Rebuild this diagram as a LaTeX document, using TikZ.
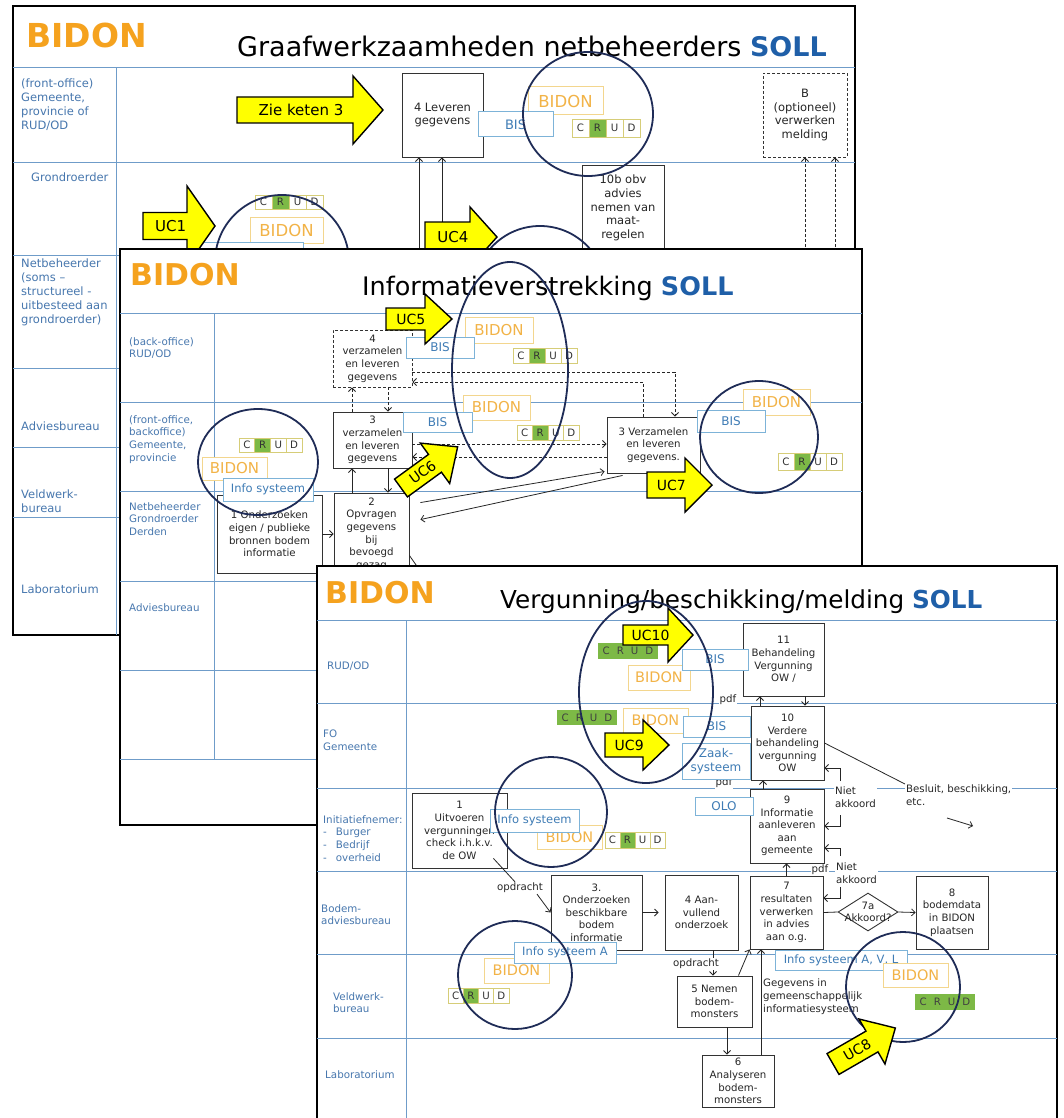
\documentclass[tikz,border=0pt]{standalone}
\usepackage{tikz,ifthen}
\usepackage{xcolor}
\usepackage{fontspec}
\setmainfont{DejaVu Sans}
\usetikzlibrary{arrows.meta,shapes.geometric}

\definecolor{bidonoranje}{HTML}{F5A21E}
\definecolor{bidonlicht}{HTML}{F2B347}
\definecolor{bidonrand}{HTML}{F3D68E}
\definecolor{sollblauw}{HTML}{1F5FA8}
\definecolor{baanblauw}{HTML}{6F9CC9}
\definecolor{baanlabel}{HTML}{4777AE}
\definecolor{bisrand}{HTML}{7DB3D8}
\definecolor{bistekst}{HTML}{3F7CB5}
\definecolor{crudrand}{HTML}{D6CD78}
\definecolor{crudgroen}{HTML}{7DB946}
\definecolor{omrand}{HTML}{1F2C57}
\definecolor{ucgeel}{HTML}{FFFF00}

\newcommand{\fa}{\fontsize{11.5}{13.8}\selectfont}
\newcommand{\fb}{\fontsize{10.2}{12.6}\selectfont}
\newcommand{\fl}{\fontsize{10.3}{12.7}\selectfont}

% gele blokpijl: naam, x, y, hoek, romp, kop, halve romp, halve kop, tekst
\newcommand{\ucpijl}[9]{%
  \begin{scope}[shift={(#2,#3)}, rotate=#4]
    \draw[ucvorm] (0,-#7) -- (#5,-#7) -- (#5,-#8) -- ({#5+#6},0) -- (#5,#8) -- (#5,#7) -- (0,#7) -- cycle;
    \node[uctekst, rotate=#4] (#1) at ({(#5+0.4*#6)/2},0) {#9};
  \end{scope}}

% C R U D vakjes: naam, x links, y midden, breedte vakje, hoogte
\newcommand{\crud}[5]{%
  \foreach \l [count=\i] in {C,R,U,D}{
    \ifthenelse{\i = 2}{\def\kl{crudgroen}}{\def\kl{white}}
    \node[crudcel, fill=\kl, minimum width=#4, minimum height=#5] (#1\i) at ({#2+(\i-0.5)*#4},#3) {\l};
  }}

\begin{document}
\begin{tikzpicture}[x=1pt, y=-1pt, >={Straight Barb[length=3.5pt,width=7pt]},
  dia/.style={draw=black, line width=1.6pt, fill=white},
  baan/.style={draw=baanblauw, line width=1pt},
  baantekst/.style={text=baanlabel, align=left, anchor=north west, inner sep=0pt},
  proc/.style={draw=black!80, line width=0.9pt, fill=white, align=center, inner sep=0pt, text=black!85},
  stippel/.style={dash pattern=on 3pt off 2pt},
  bis/.style={draw=bisrand, line width=1pt, fill=white, inner sep=0pt, text=bistekst, align=center, font=\fontsize{12}{13.5}\selectfont},
  bidonvak/.style={draw=bidonrand, line width=1pt, fill=white, inner sep=0pt, text=bidonlicht},
  crudcel/.style={draw=crudrand, line width=0.9pt, inner sep=0pt, font=\fb, text=black!80},
  crudvol/.style={fill=crudgroen, inner sep=0pt, font=\fb, text=black!75},
  omcirkel/.style={draw=omrand, line width=1.8pt},
  ucvorm/.style={fill=ucgeel, draw=black, line width=1.4pt},
  uctekst/.style={font=\fontsize{14}{16}\selectfont, inner sep=0pt},
  verbinding/.style={draw=black!85, line width=0.8pt},
  losse/.style={inner sep=1pt, fill=white, align=left, font=\fb, text=black!85}]

  \useasboundingbox (0,0) rectangle (1063,1118);
  \clip (0,0) rectangle (1063,1118);

  % ===== dia 1: graafwerkzaamheden
  \draw[dia] (13,6) rectangle (855,635);
  \foreach \y in {68,163,255,368,447,517} \draw[baan] (13,\y) -- (855,\y);
  \draw[baan] (116,68) -- (116,635);
  \node[anchor=base west, inner sep=0pt, text=bidonoranje, font=\fontsize{33}{38}\selectfont\bfseries] (bidon1) at (26,48) {BIDON};
  \node[anchor=base west, inner sep=0pt, font=\fontsize{27}{32}\selectfont] (titel1) at (237,57) {Graafwerkzaamheden netbeheerders \textcolor{sollblauw}{\bfseries SOLL}};
  \node[baantekst, font=\fa] (rol1a) at (21,79) {(front-office)\\Gemeente,\\provincie of\\RUD/OD};
  \node[baantekst, font=\fa] (rol1b) at (31,173) {Grondroerder};
  \node[baantekst, font=\fa] (rol1c) at (21,259) {Netbeheerder\\(soms --\\structureel -\\uitbesteed aan\\grondroerder)};
  \node[baantekst, font=\fa] (rol1d) at (21,422) {Adviesbureau};
  \node[baantekst, font=\fa] (rol1e) at (21,490) {Veldwerk-\\bureau};
  \node[baantekst, font=\fa] (rol1f) at (21,585) {Laboratorium};

  \node[proc, font=\fa, minimum width=81, minimum height=84] (lev4) at (442.5,115) {4 Leveren\\gegevens};
  \node[proc, stippel, font=\fa, minimum width=84, minimum height=84] (optB) at (805,115) {B\\(optioneel)\\verwerken\\melding};
  \node[proc, font=\fa, minimum width=82, minimum height=86] (maat10b) at (623,208) {10b obv\\advies\\nemen van\\maat-\\regelen};
  \coordinate (van4a) at (419,262);
  \coordinate (van4b) at (442,262);
  \coordinate (vanBa) at (805,262);
  \coordinate (vanBb) at (835,262);
  \draw[verbinding,->] (van4a) -- (van4a |- lev4.south);
  \draw[verbinding,->] (van4b) -- (van4b |- lev4.south);
  \draw[verbinding,stippel,->] (vanBa) -- (vanBa |- optB.south);
  \draw[verbinding,stippel,->] (vanBb) -- (vanBb |- optB.south);

  \node[bidonvak, font=\fontsize{16.5}{18}\selectfont, minimum width=75, minimum height=28] (bidon1a) at (565.5,101) {BIDON};
  \node[bis, font=\fontsize{13}{15}\selectfont, minimum width=75, minimum height=25] (bis1a) at (515.5,124.5) {BIS};
  \crud{crud1a}{572}{128}{17}{18}
  \node[bidonvak, font=\fontsize{16.5}{18}\selectfont, minimum width=73, minimum height=26] (bidon1b) at (286.5,230) {BIDON};
  \crud{crud1b}{255}{202}{17}{14}
  \node[bis, minimum width=116, minimum height=23] (info1) at (245,253.5) {};

  \draw[omcirkel] (588,114) ellipse [x radius=65, y radius=62];
  \draw[omcirkel] (282,262) circle [radius=67];
  \draw[omcirkel] (540,292) circle [radius=66];
  \ucpijl{keten3}{237}{110}{0}{116}{30}{13}{34}{\fontsize{15}{17}\selectfont Zie keten 3}
  \ucpijl{uc1}{143}{226}{0}{44}{28}{13.5}{40}{\fontsize{15}{17}\selectfont UC1}
  \ucpijl{uc4}{425}{237}{0}{45}{27}{15}{30}{\fontsize{15}{17}\selectfont UC4}

  % ===== dia 2: informatieverstrekking
  \draw[dia] (120,249) rectangle (862,825);
  \foreach \y in {313,402,491,581,670,759} \draw[baan] (120,\y) -- (862,\y);
  \draw[baan] (214,313) -- (214,759);
  \node[anchor=base west, inner sep=0pt, text=bidonoranje, font=\fontsize{30}{35}\selectfont\bfseries] (bidon2) at (130,285) {BIDON};
  \node[anchor=base west, inner sep=0pt, font=\fontsize{25.5}{30}\selectfont] (titel2) at (362,295) {Informatieverstrekking \textcolor{sollblauw}{\bfseries SOLL}};
  \node[baantekst, font=\fl] (rol2a) at (129,337) {(back-office)\\RUD/OD};
  \node[baantekst, font=\fl] (rol2b) at (129,415) {(front-office,\\backoffice)\\Gemeente,\\provincie};
  \node[baantekst, font=\fl] (rol2c) at (129,502) {Netbeheerder\\Grondroerder\\Derden};
  \node[baantekst, font=\fl] (rol2d) at (129,603) {Adviesbureau};

  \node[proc, stippel, font=\fb, minimum width=79, minimum height=57] (verz4) at (372.5,358.5) {4\\verzamelen\\en leveren\\gegevens};
  \node[proc, font=\fb, minimum width=79, minimum height=56] (verz3) at (372.5,440) {3\\verzamelen\\en leveren\\gegevens};
  \node[proc, font=\fb, minimum width=75, minimum height=82] (opvr2) at (371.5,534) {2\\Opvragen\\gegevens\\bij\\bevoegd\\gezag};
  \node[proc, font=\fb, minimum width=105, minimum height=78] (eigen1) at (269.5,534) {1 Onderzoeken\\eigen / publieke\\bronnen bodem\\informatie};
  \node[proc, font=\fb, minimum width=93, minimum height=56] (verzR) at (653.5,445) {3 Verzamelen\\en leveren\\gegevens.};

  \draw[verbinding,->] (eigen1.east) -- (opvr2.west);
  \draw[verbinding,->] ([xshift=-19.5pt]opvr2.north) -- ([xshift=-20.5pt]verz3.south);
  \draw[verbinding,->] ([xshift=15.5pt]verz3.south) -- ([xshift=16.5pt]opvr2.north);
  \draw[verbinding,stippel,->] ([xshift=-20.5pt]verz3.north) -- ([xshift=-20.5pt]verz4.south);
  \draw[verbinding,stippel,->] ([xshift=15.5pt]verz4.south) -- ([xshift=15.5pt]verz3.north);
  \draw[verbinding,stippel,->] ([yshift=-13.5pt]verz4.east) -| ([xshift=21.5pt]verzR.north);
  \draw[verbinding,stippel,->] ([xshift=-10.5pt]verzR.north) |- ([yshift=-23.5pt]verz4.east);
  \draw[verbinding,stippel,->] ([yshift=-4pt]verz3.east) -- ([yshift=1pt]verzR.west);
  \draw[verbinding,stippel,->] ([yshift=-12pt]verzR.west) -- ([yshift=-17pt]verz3.east);
  \draw[verbinding,->] ([shift={(11pt,-10pt)}]opvr2.north east) -- ([shift={(-2pt,2pt)}]verzR.south west);
  \draw[verbinding,->] ([xshift=16pt,yshift=-2pt]verzR.south west) -- ([shift={(11pt,-27pt)}]opvr2.north east);
  \draw[verbinding] ([yshift=-63pt]opvr2.north east) -- ++(7,10);

  \node[bidonvak, font=\fontsize{15}{17}\selectfont, minimum width=68, minimum height=26] (bidon2a) at (499,330) {BIDON};
  \node[bis, minimum width=68, minimum height=21] (bis2a) at (440,347.5) {BIS};
  \crud{crud2a}{513}{355.5}{16}{15}
  \node[bidonvak, font=\fontsize{15}{17}\selectfont, minimum width=67, minimum height=25] (bidon2b) at (496.5,407.5) {BIDON};
  \node[bis, minimum width=69, minimum height=20] (bis2b) at (437.5,422.5) {BIS};
  \crud{crud2b}{517}{432.5}{15.5}{15}
  \node[bidonvak, font=\fontsize{15}{17}\selectfont, minimum width=67, minimum height=26] (bidon2c) at (776.5,402) {BIDON};
  \node[bis, minimum width=68, minimum height=22] (bis2c) at (731,421) {BIS};
  \crud{crud2c}{778}{461.5}{16}{17}
  \node[bidonvak, font=\fontsize{15}{17}\selectfont, minimum width=65, minimum height=23] (bidon2d) at (234.5,468.5) {BIDON};
  \crud{crud2d}{239}{445}{15.75}{14}
  \node[bis, font=\fontsize{11.5}{13}\selectfont, minimum width=90, minimum height=23] (info2) at (268,489.5) {Info systeem};

  \draw[omcirkel] (510,370) ellipse [x radius=58, y radius=108];
  \draw[omcirkel] (258,462) ellipse [x radius=60, y radius=53];
  \draw[omcirkel] (759,437) ellipse [x radius=59, y radius=56];
  \ucpijl{uc5}{386}{319}{0}{39}{27}{11}{25}{UC5}
  \ucpijl{uc6}{401}{488}{36}{42}{28}{11}{25}{UC6}
  \ucpijl{uc7}{647}{485}{0}{38}{27}{13}{27}{UC7}

  % ===== dia 3: vergunning/beschikking/melding
  \draw[dia] (317,566) rectangle (1057,1130);
  \foreach \y in {620,703,788,871,954,1038} \draw[baan] (317,\y) -- (1057,\y);
  \draw[baan] (406,620) -- (406,1118);
  \node[anchor=base west, inner sep=0pt, text=bidonoranje, font=\fontsize{30}{35}\selectfont\bfseries] (bidon3) at (325,603) {BIDON};
  \node[anchor=base west, inner sep=0pt, font=\fontsize{24.7}{29}\selectfont] (titel3) at (500,608) {Vergunning/beschikking/melding \textcolor{sollblauw}{\bfseries SOLL}};
  \node[baantekst, font=\fl] (rol3a) at (327,662) {RUD/OD};
  \node[baantekst, font=\fl] (rol3b) at (323,730) {FO\\Gemeente};
  \node[baantekst, font=\fl] (rol3c) at (323,815) {Initiatiefnemer:\\-\hspace{9pt}Burger\\-\hspace{9pt}Bedrijf\\-\hspace{9pt}overheid};
  \node[baantekst, font=\fl] (rol3d) at (321,904) {Bodem-\\adviesbureau};
  \node[baantekst, font=\fl] (rol3e) at (333,992) {Veldwerk-\\bureau};
  \node[baantekst, font=\fl] (rol3f) at (325,1070) {Laboratorium};

  \node[proc, font=\fb, minimum width=81, minimum height=73] (beh11) at (783.5,659.5) {11\\Behandeling\\Vergunning\\OW /};
  \node[proc, font=\fb, minimum width=73, minimum height=74] (verd10) at (787.5,743) {10\\Verdere\\behandeling\\vergunning\\OW};
  \node[proc, font=\fb, minimum width=74, minimum height=74] (info9) at (787,826) {9\\Informatie\\aanleveren\\aan\\gemeente};
  \node[proc, font=\fb, minimum width=73, minimum height=73] (res7) at (786.5,912.5) {7\\resultaten\\verwerken\\in advies\\aan o.g.};
  \node[proc, font=\fb, minimum width=72, minimum height=73] (bod8) at (952,912.5) {8\\bodemdata\\in BIDON\\plaatsen};
  \node[proc, font=\fb, minimum width=91, minimum height=75] (ond3) at (596.5,912.5) {3.\\Onderzoeken\\beschikbare\\bodem\\informatie};
  \node[proc, font=\fb, minimum width=73, minimum height=75] (aanv4) at (701.5,912.5) {4 Aan-\\vullend\\onderzoek};
  \node[proc, font=\fb, minimum width=95, minimum height=75] (uitv1) at (459.5,830.5) {1\\Uitvoeren\\vergunningen\\check i.h.k.v.\\de OW};
  \node[proc, font=\fb, minimum width=75, minimum height=51] (nem5) at (714.5,1001.5) {5 Nemen\\bodem-\\monsters};
  \node[proc, font=\fb, minimum width=72, minimum height=52] (ana6) at (738,1081) {6\\Analyseren\\bodem-\\monsters};
  \node[diamond, draw=black!80, line width=0.9pt, fill=white, minimum width=60, minimum height=38, inner sep=0pt] (akk7a) at (868,912) {};
  \node[inner sep=0pt, align=center, font=\fb, text=black!85] (akk7t) at (868,912) {7a\\Akkoord?};

  \coordinate (nak1) at (840,781);
  \coordinate (nak2) at (840,815);
  \coordinate (nak3) at (840,856);
  \coordinate (nak4) at (840,887);
  \coordinate (klein1) at (947,818);
  \coordinate (klein2) at (973,826);
  \draw[verbinding,->] ([xshift=-27.5pt]verd10.north) -- ([xshift=-23.5pt]beh11.south);
  \draw[verbinding,->] ([xshift=21.5pt]beh11.south) -- ([xshift=17.5pt]verd10.north);
  \draw[verbinding,->] ([xshift=-24pt]info9.north) -- ([xshift=-24.5pt]verd10.south);
  \draw[verbinding,->] (res7.north) -- (res7.north |- info9.south);
  \draw[verbinding,->] (nak1) |- ([yshift=-25pt]verd10.east);
  \draw[verbinding,->] (nak2) |- (info9.east);
  \draw[verbinding,->] (nak3) |- ([yshift=-22pt]info9.east);
  \draw[verbinding,->] (nak4) |- ([yshift=14.5pt]res7.east);
  \draw[verbinding] (res7.east) -- (akk7a.west);
  \draw[verbinding,->] (akk7a.east) -- (bod8.west);
  \draw[verbinding,->,shorten >=6pt] (ond3.east) -- (aanv4.west);
  \draw[verbinding,->] ([xshift=11.5pt]aanv4.south) -- ([xshift=-1.5pt]nem5.north);
  \draw[verbinding,->] ([xshift=-14pt]nem5.north east) -- (res7.south west);
  \draw[verbinding,->] ([xshift=23pt]ana6.north) -- ([xshift=-25.5pt]res7.south);
  \draw[verbinding,->] ([xshift=12.5pt]nem5.south) -- ([xshift=-11pt]ana6.north);
  \draw[verbinding,->] (klein1) -- (klein2);

  \node[losse] (pdf1) at (728,700) {pdf};
  \node[losse] (pdf2) at (724,783) {pdf};
  \node[losse, inner sep=0.5pt] (pdf3) at (820,870) {pdf};
  \node[losse, anchor=north west] (besluit) at (905,784) {Besluit, beschikking,\\etc.};
  \node[losse, anchor=west] (niet1) at (834,797) {Niet\\akkoord};
  \node[losse, anchor=west] (niet2) at (835,873) {Niet\\akkoord};
  \node[losse] (opdr1) at (520,888) {opdracht};
  \node[losse] (opdr2) at (696,964) {opdracht};
  \node[losse, anchor=north west, fill=none] (gegevens) at (762,978) {Gegevens in\\gemeenschappelijk\\informatiesysteem};
  \draw[verbinding] (verd10.east) -- (besluit.north west);
  \draw[verbinding] ([shift={(-14pt,10pt)}]uitv1.south east) -- ([xshift=-5pt]opdr1.north);
  \draw[verbinding,->] ([xshift=17pt]opdr1.south) -- (ond3.west);

  \node[crudvol, minimum width=60, minimum height=16] (crud3a) at (628,651) {C\hspace{7pt}R\hspace{7pt}U\hspace{7pt}D};
  \node[bidonvak, font=\fontsize{14.5}{16}\selectfont, minimum width=62, minimum height=25] (bidon3a) at (659,677.5) {BIDON};
  \node[bis, minimum width=66, minimum height=21] (bis3a) at (715,659.5) {BIS};
  \node[crudvol, minimum width=60, minimum height=15] (crud3b) at (587,717.5) {C\hspace{7pt}R\hspace{7pt}U\hspace{7pt}D};
  \node[bidonvak, font=\fontsize{14.5}{16}\selectfont, minimum width=65, minimum height=25] (bidon3b) at (655.5,720.5) {BIDON};
  \node[bis, minimum width=67, minimum height=21] (bis3b) at (716.5,726.5) {BIS};
  \node[bis, minimum width=68, minimum height=36] (zaak3) at (716,761) {Zaak-\\systeem};
  \node[bis, minimum width=58, minimum height=18] (olo3) at (724,806) {OLO};
  \node[bidonvak, font=\fontsize{14.5}{16}\selectfont, minimum width=65, minimum height=24] (bidon3c) at (569.5,837) {BIDON};
  \crud{crud3c}{605}{840}{15}{16}
  \node[bis, font=\fontsize{11.5}{13}\selectfont, minimum width=89, minimum height=23] (info3a) at (534.5,820.5) {Info systeem};
  \node[bidonvak, font=\fontsize{14.5}{16}\selectfont, minimum width=65, minimum height=25] (bidon3d) at (516.5,970.5) {BIDON};
  \crud{crud3d}{448}{995.5}{15.25}{15}
  \node[bis, font=\fontsize{11.5}{13}\selectfont, minimum width=102, minimum height=21] (info3b) at (565,952.5) {Info systeem A};
  \node[bis, font=\fontsize{11.5}{13}\selectfont, minimum width=132, minimum height=20] (info3c) at (841,960) {Info systeem A, V, L};
  \node[bidonvak, font=\fontsize{14.5}{16}\selectfont, minimum width=65, minimum height=24] (bidon3e) at (915.5,975) {BIDON};
  \node[crudvol, minimum width=60, minimum height=16] (crud3e) at (945,1002) {C\hspace{7pt}R\hspace{7pt}U\hspace{7pt}D};

  \draw[omcirkel] (646,692) ellipse [x radius=67, y radius=91];
  \draw[omcirkel] (551,812) ellipse [x radius=56, y radius=55];
  \draw[omcirkel] (515,975) ellipse [x radius=57, y radius=54];
  \draw[omcirkel] (903,987) ellipse [x radius=57, y radius=55];
  \ucpijl{uc10}{623}{635}{0}{45}{25}{10}{27}{UC10}
  \ucpijl{uc9}{605}{745}{0}{38}{26}{12}{25}{UC9}
  \ucpijl{uc8}{833}{1064}{30}{45}{27}{12}{26}{UC8}
\end{tikzpicture}
\end{document}
